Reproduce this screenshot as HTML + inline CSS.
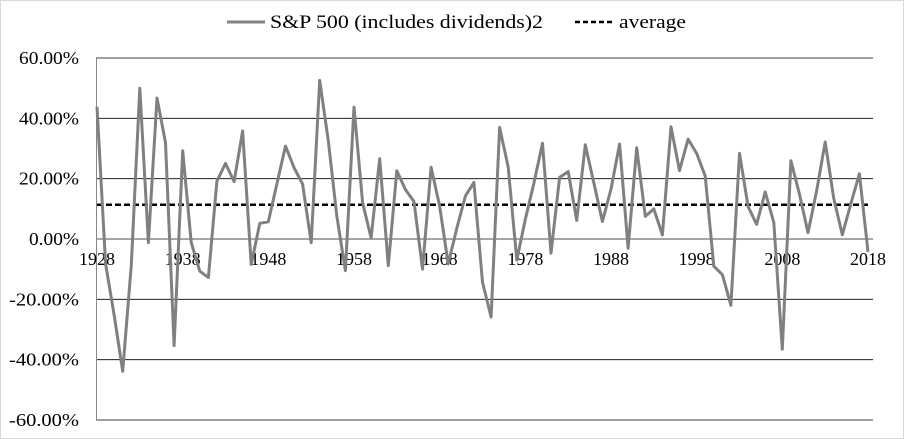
<!DOCTYPE html>
<html><head><meta charset="utf-8"><style>
body{margin:0;background:#fff}
svg{display:block;font-family:"Liberation Serif",serif}
</style></head><body>
<svg id="chart" width="904" height="439">
<rect x="0.5" y="0.5" width="903" height="438" fill="#fff" stroke="#d9d9d9"/>
<g id="grid"></g><g id="labels"></g><g id="series"></g>
<g>
<line x1="227" y1="22" x2="265" y2="22" stroke="#808080" stroke-width="3"/>
<text x="270" y="28" font-size="19" textLength="273" lengthAdjust="spacingAndGlyphs">S&amp;P 500 (includes dividends)2</text>
<line x1="575" y1="22" x2="613" y2="22" stroke="#000" stroke-width="2.5" stroke-dasharray="5,3"/>
<text x="619" y="28" font-size="19" textLength="67" lengthAdjust="spacingAndGlyphs">average</text>
</g>
</svg>
<script>
const years=[];for(let y=1928;y<=2018;y++)years.push(y);
const returns=[43.81,-8.30,-25.12,-43.84,-8.64,49.98,-1.19,46.74,31.94,-35.34,29.28,-1.10,-10.67,-12.77,19.17,25.06,19.03,35.82,-8.43,5.20,5.70,18.30,30.81,23.68,18.15,-1.21,52.56,32.60,7.44,-10.46,43.72,12.06,0.34,26.64,-8.81,22.61,16.42,12.40,-9.97,23.80,10.81,-8.24,3.56,14.22,18.76,-14.31,-25.90,37.00,23.83,-6.98,6.51,18.52,31.74,-4.70,20.42,22.34,6.15,31.24,18.49,5.81,16.54,31.48,-3.06,30.23,7.49,9.97,1.33,37.20,22.68,33.10,28.34,20.89,-9.03,-11.85,-21.97,28.36,10.74,4.83,15.61,5.48,-36.55,25.94,14.82,2.10,15.89,32.15,13.52,1.38,11.77,21.61,-4.23];
const averageValue=[11.36];
const yTicks=[60,40,20,0,-20,-40,-60];
const xTickYears=[1928,1938,1948,1958,1968,1978,1988,1998,2008,2018];
const NS="http://www.w3.org/2000/svg";
const x=yr=>97+(yr-1928)*(868-97)/90;
const y=v=>239-v*(181/60);
function mk(tag,attrs,parent,text){const e=document.createElementNS(NS,tag);for(const k in attrs)e.setAttribute(k,attrs[k]);if(text!==undefined)e.textContent=text;document.getElementById(parent).appendChild(e);return e;}
yTicks.forEach(t=>{
 const g=mk('line',{x1:96,x2:873,y1:y(t),y2:y(t),stroke:t===0?'#888':'#000','stroke-width':t===0?1.5:0.8},'grid');
 
 
 const s=t.toFixed(2)+'%';
 const l=mk('text',{x:79,y:y(t)+6,'text-anchor':'end','font-size':18,textLength:s.length*10,lengthAdjust:'spacingAndGlyphs'},'labels',s);
 
 
});
const ax=mk('line',{x1:96.5,x2:96.5,y1:y(60),y2:y(-60),stroke:'#888','stroke-width':1},'grid');


xTickYears.forEach(yr=>{
 const l=mk('text',{x:x(yr),y:265,'text-anchor':'middle','font-size':18},'labels',String(yr));
 
 
});
const avg=mk('line',{x1:x(1928),x2:x(2018),y1:y(averageValue[0]),y2:y(averageValue[0]),stroke:'#000','stroke-width':2.5,'stroke-dasharray':'6,3'},'series');


const pts=returns.map((v,i)=>x(years[i]).toFixed(1)+','+y(v).toFixed(1)).join(' ');
const line=mk('polyline',{points:pts,fill:'none',stroke:'#808080','stroke-width':3,'stroke-linejoin':'round'},'series');


</script>
</body></html>
